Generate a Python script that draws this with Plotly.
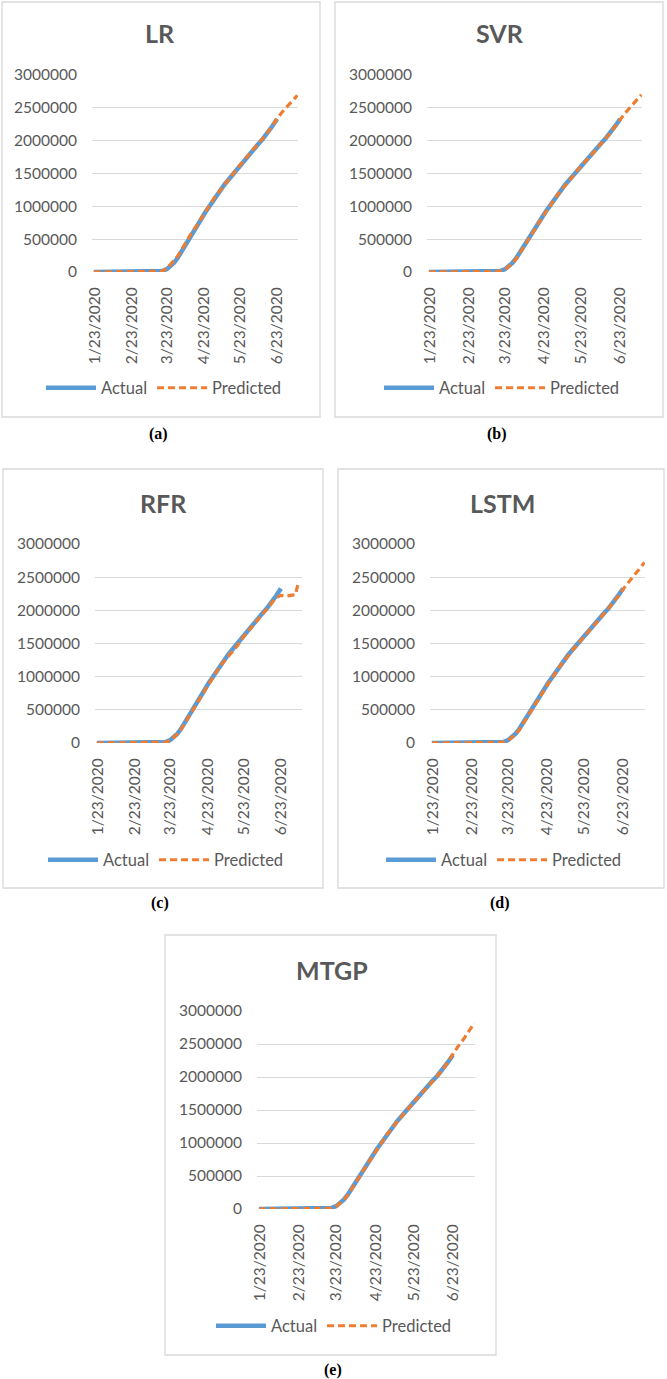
import plotly.graph_objects as go

W, H = 667, 1379

# ---------------- data ----------------
dates_actual = ["2020-01-22", "2020-02-01", "2020-02-15", "2020-03-01", "2020-03-10",
                "2020-03-15", "2020-03-19", "2020-03-23", "2020-03-26", "2020-03-29",
                "2020-04-01", "2020-04-04", "2020-04-08", "2020-04-12", "2020-04-16",
                "2020-04-20", "2020-04-24", "2020-04-28", "2020-05-02", "2020-05-06",
                "2020-05-10", "2020-05-14", "2020-05-18", "2020-05-22", "2020-05-26",
                "2020-05-30", "2020-06-03", "2020-06-07", "2020-06-11", "2020-06-15",
                "2020-06-19", "2020-06-23"]
actual = [1, 8, 15, 75, 1000, 3600, 13700, 43700, 85500, 140900,
          214000, 308800, 432000, 555300, 667800, 784300, 905400, 1012600, 1133000, 1228000,
          1329000, 1417000, 1508000, 1600000, 1681000, 1770000, 1851000, 1942000, 2023000, 2114000,
          2220000, 2330000]

dates_pred = dates_actual + ["2020-06-27", "2020-07-01", "2020-07-05", "2020-07-07", "2020-07-10"]

pred_lr = [0, 0, 0, 0, 0, 2000, 12000, 52000, 120000, 178000,
           240000, 330000, 455000, 575000, 680000, 795000, 915000, 1020000, 1140000, 1230000,
           1330000, 1420000, 1510000, 1605000, 1690000, 1775000, 1860000, 1945000, 2030000, 2120000,
           2230000, 2340000, 2430000, 2510000, 2590000, 2630000, 2690000]
pred_svr = [0, 0, 0, 0, 0, 2000, 10000, 40000, 80000, 132000,
            205000, 298000, 420000, 545000, 660000, 776000, 898000, 1005000, 1128000, 1222000,
            1322000, 1412000, 1502000, 1596000, 1676000, 1765000, 1846000, 1937000, 2018000, 2108000,
            2215000, 2325000, 2420000, 2505000, 2590000, 2630000, 2700000]
pred_rfr = [0, 0, 0, 0, 0, 2000, 11000, 40000, 82000, 135000,
            205000, 298000, 420000, 540000, 650000, 770000, 890000, 1000000, 1120000, 1215000,
            1300000, 1380000, 1470000, 1580000, 1665000, 1755000, 1840000, 1930000, 2010000, 2100000,
            2190000, 2225000, 2215000, 2225000, 2235000, 2385000, 2365000]
pred_lstm = [0, 0, 0, 0, 0, 2000, 10000, 38000, 78000, 130000,
             200000, 292000, 415000, 538000, 652000, 770000, 892000, 1000000, 1122000, 1218000,
             1318000, 1408000, 1498000, 1590000, 1672000, 1760000, 1842000, 1932000, 2014000, 2104000,
             2210000, 2320000, 2420000, 2510000, 2600000, 2650000, 2720000]
pred_mtgp = [0, 0, 0, 0, 0, 2000, 11000, 40000, 80000, 134000,
             206000, 300000, 424000, 548000, 660000, 778000, 900000, 1006000, 1128000, 1222000,
             1322000, 1412000, 1502000, 1595000, 1676000, 1765000, 1846000, 1937000, 2018000, 2110000,
             2225000, 2345000, 2460000, 2560000, 2670000, 2730000, 2820000]

panel_titles = ["LR", "SVR", "RFR", "LSTM", "MTGP"]
panel_captions = ["(a)", "(b)", "(c)", "(d)", "(e)"]
predictions = [pred_lr, pred_svr, pred_rfr, pred_lstm, pred_mtgp]

tick_dates = ["2020-01-23", "2020-02-23", "2020-03-23", "2020-04-23", "2020-05-23", "2020-06-23"]
tick_text = ["1/23/2020", "2/23/2020", "3/23/2020", "4/23/2020", "5/23/2020", "6/23/2020"]
y_ticks = [0, 500000, 1000000, 1500000, 2000000, 2500000, 3000000]

# ---------------- layout geometry (pixels) ----------------
plot_boxes = [  # x0, x1, ytop, ybottom
    (92, 298, 75, 272),
    (427, 642, 75, 272),
    (95, 302, 544, 743),
    (430, 645, 544, 743),
    (257, 475, 1011, 1209),
]
borders = [
    (2, 320, 2, 417),
    (335, 663, 2, 417),
    (3, 323, 469, 888),
    (338, 664, 469, 888),
    (165, 496, 935, 1355),
]
title_pos = [(160, 33), (500, 33), (163, 503), (502, 503), (332, 970)]
legend_pos = [(164, 388), (502, 388), (166, 860), (504, 860), (334, 1326)]
caption_pos = [(158, 434), (497, 434), (160, 903), (500, 903), (333, 1370)]

BLUE = "#5B9BD5"
ORANGE = "#ED7D31"
GRAY = "#595959"
GRID = "#D9D9D9"


def fx(px):
    return px / W


def fy(py):
    return 1 - py / H


fig = go.Figure()
layout = dict(width=W, height=H, margin=dict(l=0, r=0, t=0, b=0, pad=0, autoexpand=False),
              paper_bgcolor="white", plot_bgcolor="white", showlegend=True,
              font=dict(family="Lato, 'Open Sans', sans-serif", color=GRAY))
shapes = []
annotations = []

for i in range(5):
    n = "" if i == 0 else str(i + 1)
    leg = "legend" if i == 0 else "legend" + str(i + 1)
    x0, x1, yt, yb = plot_boxes[i]
    fig.add_trace(go.Scatter(x=dates_actual, y=actual, mode="lines", name="Actual",
                             line=dict(color=BLUE, width=4.5),
                             xaxis="x" + n, yaxis="y" + n, legend=leg))
    fig.add_trace(go.Scatter(x=dates_pred, y=predictions[i], mode="lines", name="Predicted",
                             line=dict(color=ORANGE, width=3.2, dash="7px,4px"),
                             xaxis="x" + n, yaxis="y" + n, legend=leg))
    layout["xaxis" + n] = dict(domain=[fx(x0), fx(x1)], anchor="y" + n, type="date",
                               range=["2020-01-20 12:00", "2020-07-10 12:00"],
                               tickvals=tick_dates, ticktext=tick_text, tickangle=-90,
                               tickfont=dict(size=15.5, color=GRAY),
                               ticks="outside", ticklen=8, tickcolor="rgba(0,0,0,0)",
                               showgrid=False, zeroline=False, showline=False,
                               automargin=False, fixedrange=True)
    layout["yaxis" + n] = dict(domain=[fy(yb), fy(yt)], anchor="x" + n,
                               range=[0, 3000000], tickvals=y_ticks, tickformat="d",
                               tickfont=dict(size=15.5, color=GRAY),
                               ticks="outside", ticklen=11, tickcolor="rgba(0,0,0,0)",
                               showgrid=True, gridcolor=GRID, gridwidth=1,
                               zeroline=False, showline=False,
                               automargin=False, fixedrange=True)
    lx, ly = legend_pos[i]
    layout[leg] = dict(orientation="h", x=fx(lx), y=fy(ly), xanchor="center", yanchor="middle",
                       bgcolor="rgba(0,0,0,0)", font=dict(size=16.5, color=GRAY),
                       itemwidth=50, tracegroupgap=0)
    bx0, bx1, by0, by1 = borders[i]
    shapes.append(dict(type="rect", xref="paper", yref="paper",
                       x0=fx(bx0), x1=fx(bx1), y0=fy(by1), y1=fy(by0),
                       line=dict(color=GRID, width=1.3), fillcolor="rgba(0,0,0,0)", layer="below"))
    tx, ty = title_pos[i]
    annotations.append(dict(text="<b>" + panel_titles[i] + "</b>", xref="paper", yref="paper",
                            x=fx(tx), y=fy(ty), xanchor="center", yanchor="middle", showarrow=False,
                            font=dict(size=25, color=GRAY, family="Lato, sans-serif")))
    cx, cy = caption_pos[i]
    annotations.append(dict(text="<b>" + panel_captions[i] + "</b>", xref="paper", yref="paper",
                            x=fx(cx), y=fy(cy), xanchor="center", yanchor="middle", showarrow=False,
                            font=dict(size=16, color="black",
                                      family="'Liberation Serif', 'Times New Roman', serif")))

layout["shapes"] = shapes
layout["annotations"] = annotations
fig.update_layout(**layout)
fig.write_html("out.html", config={"displayModeBar": False, "staticPlot": True},
               post_script="document.body.style.margin='0';document.body.style.overflow='hidden';")
